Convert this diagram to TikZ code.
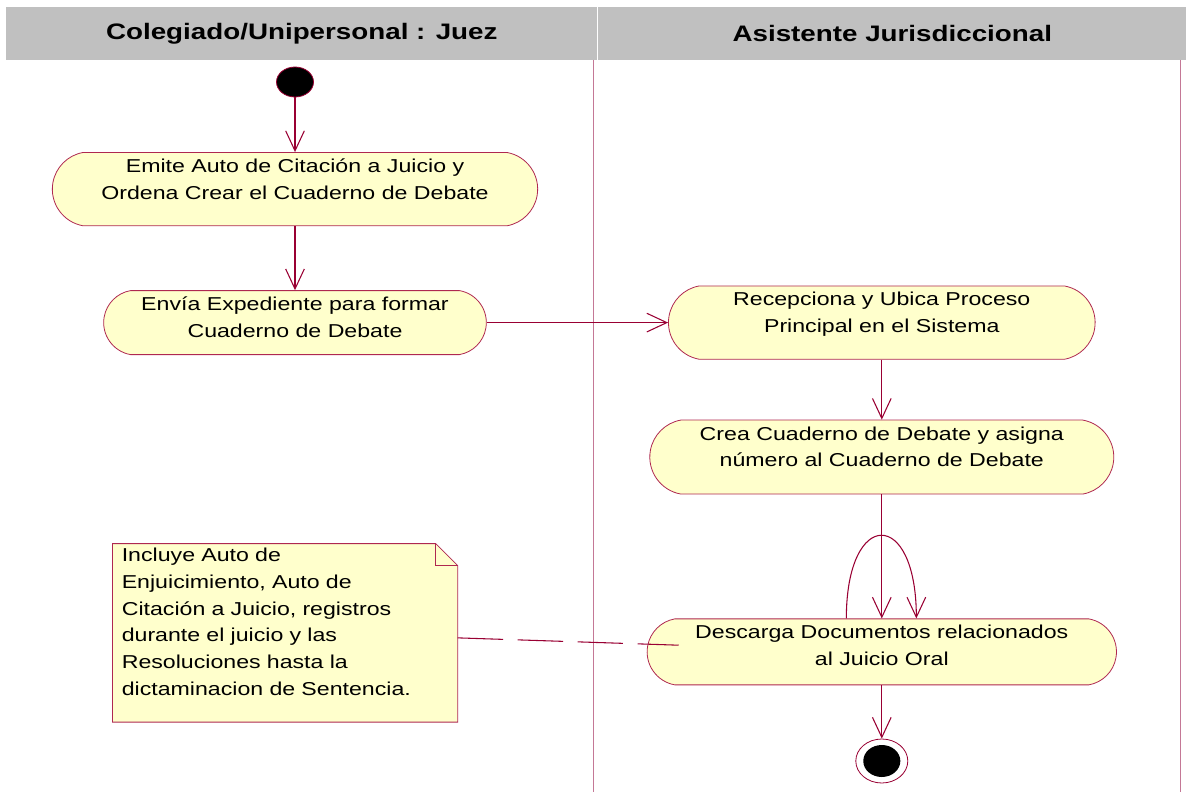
\documentclass[tikz,border=0pt]{standalone}
\usepackage{fontspec}
\setmainfont[FakeStretch=1.24]{Liberation Sans}
\usetikzlibrary{positioning,arrows.meta,shapes.misc,shapes.geometric,backgrounds}
\definecolor{roseline}{RGB}{153,0,51}
\definecolor{rosebd}{RGB}{175,40,80}
\definecolor{lanecol}{RGB}{196,120,150}
\definecolor{actfill}{RGB}{255,255,204}
\definecolor{hdrgray}{RGB}{192,192,192}
\tikzstyle{hdr}=[rectangle, fill=hdrgray, minimum height=39.75pt, inner sep=0pt,
 font=\fontsize{16.8}{20}\selectfont\bfseries]
\tikzstyle{actbox}=[rounded rectangle, rounded rectangle arc length=160, draw=rosebd,
 fill=actfill, line width=0.6pt, align=center, inner xsep=2pt, inner ysep=2pt,
 text height=33pt, font=\fontsize{14}{20}\selectfont]
\tikzstyle{notebox}=[rectangle, inner xsep=6.75pt, inner ysep=2pt, text width=245pt,
 align=left, text height=11.5pt, text depth=118pt, font=\fontsize{14}{20}\selectfont]
\tikzstyle{notebd}=[draw=rosebd, fill=actfill, line width=0.6pt]
\tikzstyle{startst}=[ellipse, draw=roseline, fill=black, minimum width=27.75pt,
 minimum height=22.5pt, inner sep=0pt, line width=0.6pt]
\tikzstyle{endst}=[ellipse, draw=roseline, fill=white, minimum width=39pt,
 minimum height=33pt, inner sep=0pt, line width=0.6pt,
 path picture={\fill[black] (path picture bounding box.center) ellipse (13.9pt and 12pt);}]
\tikzstyle{flow}=[-{Straight Barb[length=15pt,width=14pt]}, line width=0.8pt, roseline]
\tikzstyle{noteline}=[-, line width=0.8pt, roseline, dash pattern=on 34pt off 11pt]
\tikzstyle{lane}=[-, line width=0.5pt, lanecol]

\begin{document}
\begin{tikzpicture}[node distance=0mm]
\useasboundingbox (0,0) rectangle (889.5pt,-594pt);

% swimlanes
	\node (juez) [hdr, minimum width=443.25pt, anchor=north west] at (4.5pt,-5.25pt) {Colegiado/Unipersonal : Juez};
	\node (asis) [hdr, minimum width=441.75pt, right=0pt of juez] {Asistente Jurisdiccional};
	\coordinate (lanea) at (444.75pt,-45pt);
	\coordinate (laneab) at (444.75pt,-594pt);
	\coordinate (laneb) at (885pt,-45pt);
	\coordinate (lanebb) at (885pt,-594pt);
	\draw[lane] (lanea) -- (laneab);
	\draw[lane] (laneb) -- (lanebb);

%%%
	\node (ini) [startst] at (221.25pt,-61.5pt) {};
	\node (emite) [actbox, minimum width=368pt, text depth=18pt, below=41pt of ini] {Emite Auto de Citación a Juicio y\\Ordena Crear el Cuaderno de Debate};
	\node (envia) [actbox, minimum width=291pt, text depth=11pt, below=48pt of emite] {Envía Expediente para formar\\Cuaderno de Debate};
	\node (recep) [actbox, minimum width=324pt, text depth=18pt, right=136pt of envia] {Recepciona y Ubica Proceso\\Principal en el Sistema};
	\node (crea) [actbox, minimum width=352pt, text depth=18.5pt, below=45pt of recep] {Crea Cuaderno de Debate y asigna\\número al Cuaderno de Debate};
	\node (desc) [actbox, minimum width=356pt, text depth=12.5pt, below=93pt of crea] {Descarga Documentos relacionados\\al Juicio Oral};
	\node (fin) [endst, below=40pt of desc] {};

	\node (nota) [notebox, left=141.75pt of desc, yshift=14.25pt] {Incluye Auto de\\Enjuicimiento, Auto de\\Citación a Juicio, registros\\durante el juicio y las\\Resoluciones hasta la\\dictaminacion de Sentencia.};
	\begin{scope}[on background layer]
	\draw[notebd] (nota.south west) -- (nota.north west) -- ([xshift=-16.5pt]nota.north east) -- ([yshift=-16.5pt]nota.north east) -- (nota.south east) -- cycle;
	\end{scope}
	\draw[rosebd, line width=0.6pt] ([xshift=-16.5pt]nota.north east) |- ([yshift=-16.5pt]nota.north east);

   \draw[flow] (ini.south) to (emite.north);
   \draw[flow] (emite.south) to (envia.north);
   \draw[flow] (envia.east) to (recep.west);
   \draw[flow] (recep.south) to (crea.north);
   \draw[flow] (crea.south) to (desc.north);
   \draw[flow] ([xshift=-26.6pt]desc.north) .. controls +(0,83pt) and +(0,83pt) .. ([xshift=25.9pt]desc.north);
   \draw[flow] (desc.south) to (fin.north);
%note link
   \draw[noteline] ([yshift=-3.75pt]nota.east) -- ([xshift=24pt,yshift=5pt]desc.west);

\end{tikzpicture}
\end{document}
